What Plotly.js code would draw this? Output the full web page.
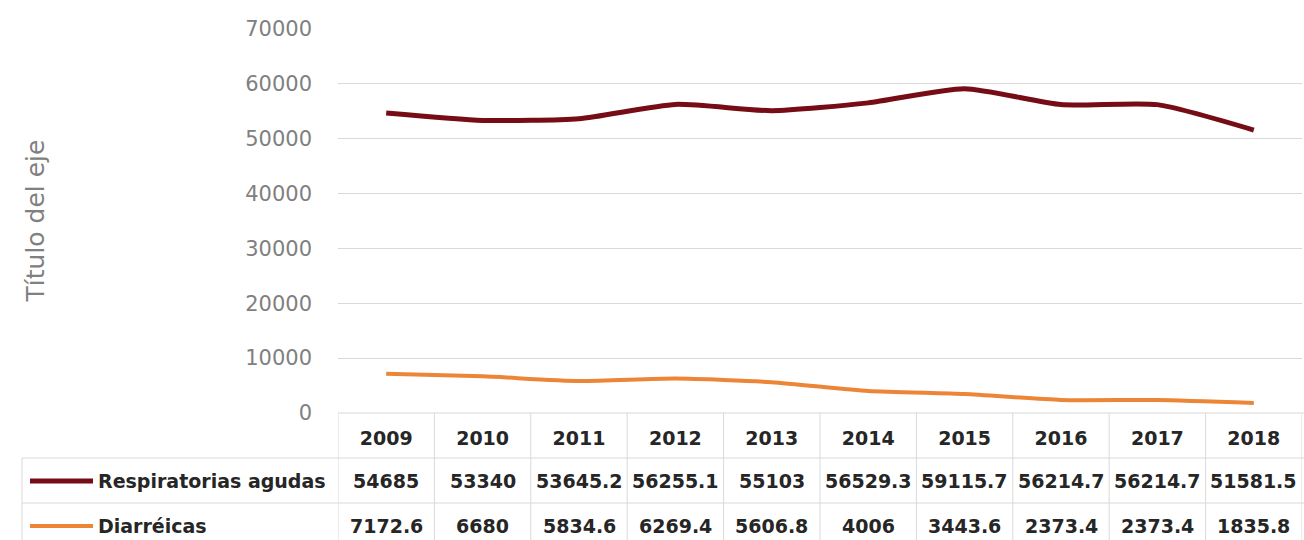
<!DOCTYPE html>
<html>
<head>
<meta charset="utf-8">
<script src="https://cdn.plot.ly/plotly-3.0.1.min.js"></script>
<style>
  html, body { margin: 0; padding: 0; background: #ffffff; overflow: hidden; }
  #chart { width: 1304px; height: 540px; }
</style>
</head>
<body>
<div id="chart"></div>
<script>
// ---- data ----
const years = ['2009', '2010', '2011', '2012', '2013', '2014', '2015', '2016', '2017', '2018'];
const respiratorias = [54685, 53340, 53645.2, 56255.1, 55103, 56529.3, 59115.7, 56214.7, 56214.7, 51581.5];
const diarreicas = [7172.6, 6680, 5834.6, 6269.4, 5606.8, 4006, 3443.6, 2373.4, 2373.4, 1835.8];
const seriesNames = ['Respiratorias agudas', 'Diarréicas'];
const yTickValues = [0, 10000, 20000, 30000, 40000, 50000, 60000, 70000];
const yAxisTitle = 'Título del eje';

// ---- layout geometry / styles ----
const W = 1304, H = 540;
const M = { l: 338, r: 2, t: 28, b: 127 };
const plotW = W - M.l - M.r;
const plotH = H - M.t - M.b;
const plotBottom = H - M.b;
const colors = ['#760c16', '#ec8636'];
const gridColor = '#d9d9d9';
const tableFont = { family: 'DejaVu Sans', size: 19, color: '#262626', weight: 'bold' };

// pixel -> paper helpers
const px = p => (p - M.l) / plotW;
const py = p => (plotBottom - p) / plotH;

const traces = [
  { x: years, y: respiratorias, name: seriesNames[0], type: 'scatter', mode: 'lines',
    line: { color: colors[0], width: 5, shape: 'spline', smoothing: 0.6 } },
  { x: years, y: diarreicas, name: seriesNames[1], type: 'scatter', mode: 'lines',
    line: { color: colors[1], width: 4, shape: 'spline', smoothing: 0.6 } }
];

const shapes = [];
const lineStyle = { color: gridColor, width: 1 };
// horizontal table lines
shapes.push({ type: 'line', xref: 'paper', yref: 'paper', x0: 0, x1: 1.01, y0: 0, y1: 0, line: lineStyle });
[458, 503].forEach(yy => shapes.push({ type: 'line', xref: 'paper', yref: 'paper',
  x0: px(22), x1: 1.01, y0: py(yy), y1: py(yy), line: lineStyle }));
// left border of table rows
shapes.push({ type: 'line', xref: 'paper', yref: 'paper', x0: px(22), x1: px(22), y0: py(458), y1: py(545), line: lineStyle });
// column separators
for (let k = 0; k <= years.length; k++) {
  shapes.push({ type: 'line', xref: 'x', yref: 'paper', x0: k - 0.5, x1: k - 0.5,
    y0: 0, y1: py(545), line: lineStyle });
}
// legend keys
const rowY = [481, 526];
seriesNames.forEach((n, i) => shapes.push({ type: 'line', xref: 'paper', yref: 'paper',
  x0: px(30), x1: px(93), y0: py(rowY[i]), y1: py(rowY[i]),
  line: { color: colors[i], width: i === 0 ? 5 : 4 } }));

const annotations = [];
const rows = [respiratorias, diarreicas];
seriesNames.forEach((n, i) => {
  annotations.push({ xref: 'paper', yref: 'paper', x: px(96), y: py(rowY[i]), text: n,
    showarrow: false, xanchor: 'left', yanchor: 'middle', font: tableFont });
  rows[i].forEach((v, j) => annotations.push({ xref: 'x', yref: 'paper', x: j, y: py(rowY[i]),
    text: String(v), showarrow: false, xanchor: 'center', yanchor: 'middle', font: tableFont }));
});

const layout = {
  width: W, height: H,
  margin: M,
  paper_bgcolor: '#ffffff', plot_bgcolor: '#ffffff',
  showlegend: false,
  xaxis: {
    type: 'category', range: [-0.5, years.length - 0.5],
    showgrid: false, zeroline: false, showline: false, ticks: '',
    tickfont: tableFont, ticklabelstandoff: 12, fixedrange: true
  },
  yaxis: {
    range: [0, 70180], tickvals: yTickValues, ticktext: yTickValues.map(String),
    showgrid: true, gridcolor: gridColor, gridwidth: 1, zeroline: false, showline: false,
    ticks: '', ticklabelstandoff: 25,
    tickfont: { family: 'DejaVu Sans', size: 21, color: '#808080' },
    automargin: true,
    title: { text: yAxisTitle, standoff: 193, font: { family: 'DejaVu Sans', size: 25, color: '#808080' } },
    fixedrange: true
  },
  shapes: shapes,
  annotations: annotations
};

Plotly.newPlot('chart', traces, layout, { displayModeBar: false, staticPlot: true });
</script>
</body>
</html>
